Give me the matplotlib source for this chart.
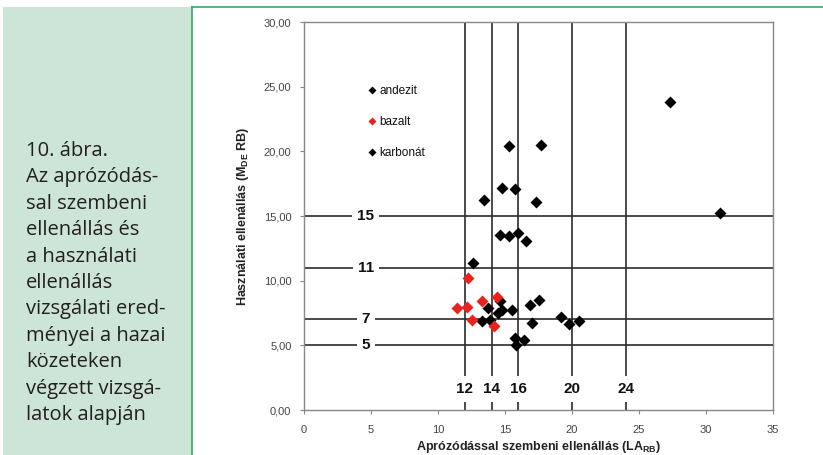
import matplotlib.pyplot as plt
from matplotlib.patches import Rectangle
from matplotlib.lines import Line2D
from matplotlib.ticker import FuncFormatter

plt.rcParams['font.family'] = ['Liberation Sans', 'DejaVu Sans']
plt.rcParams['mathtext.fontset'] = 'custom'
plt.rcParams['mathtext.bf'] = 'Liberation Sans:bold'
plt.rcParams['mathtext.rm'] = 'Liberation Sans:bold'
plt.rcParams['mathtext.default'] = 'bf'

# data
andezit_x = [15.3, 17.7, 14.8, 15.75, 13.4, 17.35, 14.6, 15.3, 15.95, 16.6, 12.6, 27.3, 31.05]
andezit_y = [20.45, 20.5, 17.15, 17.1, 16.2, 16.05, 13.5, 13.45, 13.65, 13.05, 11.35, 23.85, 15.2]

bazalt_x = [11.45, 12.15, 12.5, 13.25, 14.4, 14.15, 12.25]
bazalt_y = [7.85, 7.95, 6.95, 8.4, 8.7, 6.5, 10.2]

karbonat_x = [13.7, 14.65, 14.75, 14.5, 15.5, 13.25, 13.9, 16.9, 17.55, 17.05,
              19.15, 19.8, 20.5, 15.75, 16.4, 15.85]
karbonat_y = [7.85, 8.45, 7.75, 7.5, 7.7, 6.85, 6.95, 8.15, 8.5, 6.7,
              7.2, 6.65, 6.9, 5.55, 5.45, 5.05]

vlines = [12, 14, 16, 20, 24]
hlines = [5, 7, 11, 15]

caption = ("10. ábra.\nAz aprózódás-\nsal szembeni\nellenállás és\na használati\n"
           "ellenállás\nvizsgálati ered-\nményei a hazai\nközeteken\nvégzett vizsgá-\n"
           "latok alapján")

fig = plt.figure(figsize=(8.23, 4.55), dpi=100)
fig.patch.set_facecolor('white')

# green side panel
green = '#3aa866'
fig.patches.append(Rectangle((3 / 823, 0), 189 / 823, 448 / 455, transform=fig.transFigure,
                             fc='#cde5d7', ec='none', zorder=0))
fig.lines.append(Line2D([192 / 823, 192 / 823], [0, 448 / 455], transform=fig.transFigure,
                        color=green, lw=1.2))
fig.lines.append(Line2D([192 / 823, 1], [448 / 455, 448 / 455], transform=fig.transFigure,
                        color=green, lw=1.2))
fig.text(26 / 823, 172 / 455, caption, ha='left', va='center', fontsize=14.5,
         family='Open Sans', color='#231f20', linespacing=1.43)

ax = fig.add_axes([304 / 823, 45 / 455, 469 / 823, 388 / 455])
ax.set_xlim(0, 35)
ax.set_ylim(0, 30)

lc = '#2b2b2b'
for v in vlines:
    ax.axvline(v, color=lc, lw=1.2, zorder=1)
    ax.text(v, 1.62, str(v), ha='center', va='center', fontsize=11, fontweight='bold',
            color='#111', bbox=dict(fc='white', ec='none', pad=4.5), zorder=2)
for h in hlines:
    ax.axhline(h, color=lc, lw=1.2, zorder=1)
    ax.text(4.6, h, str(h), ha='center', va='center', fontsize=11, fontweight='bold',
            color='#111', bbox=dict(fc='white', ec='none', pad=3.5), zorder=2)

ms = 5.8
ax.plot(andezit_x, andezit_y, 'D', color='black', ms=ms, mec='none', zorder=3, label='andezit')
ax.plot(bazalt_x, bazalt_y, 'D', color='#e8231d', ms=ms, mec='none', zorder=4, label='bazalt')
ax.plot(karbonat_x, karbonat_y, 'D', color='black', ms=ms, mec='none', zorder=3, label='karbonát')

leg = ax.legend(loc='upper left', bbox_to_anchor=(0.115, 0.865), frameon=False, fontsize=8.5,
                handlelength=0.6, handletextpad=0.3, labelspacing=1.6, markerscale=0.75)
for t in leg.get_texts():
    t.set_color('#111')

for s in ax.spines.values():
    s.set_color('#888888')
    s.set_linewidth(1.0)

ax.set_xticks(range(0, 36, 5))
ax.set_yticks(range(0, 31, 5))
ax.yaxis.set_major_formatter(FuncFormatter(lambda v, p: f"{v:.2f}".replace('.', ',')))
ax.tick_params(axis='both', labelsize=8, colors='#888888', labelcolor='#444444', length=3)
ax.tick_params(axis='x', pad=8)
ax.tick_params(axis='y', pad=6)

ax.set_xlabel(r"Aprózódással szembeni ellenállás (LA$_{RB}$)", fontsize=9,
              fontweight='bold', color='#222', labelpad=3)
ax.set_ylabel(r"Használati ellenállás (M$_{DE}$ RB)", fontsize=9,
              fontweight='bold', color='#222', labelpad=9)

fig.savefig('out.png', dpi=100)
